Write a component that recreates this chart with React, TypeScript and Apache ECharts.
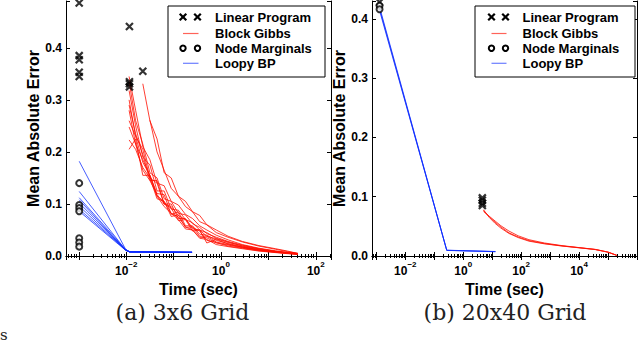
import React, { useEffect, useRef } from "react";
import * as echarts from "echarts";

// ---------- Panel (a) 3x6 Grid ----------
const lpA: number[][] = [
  [0.00102, 0.486], [0.00102, 0.385], [0.00102, 0.377], [0.00102, 0.353], [0.00102, 0.345],
  [0.0117, 0.441], [0.0117, 0.335], [0.0117, 0.331], [0.0117, 0.325], [0.0224, 0.355],
];
const nmA: number[][] = [
  [0.00102, 0.14], [0.00102, 0.098], [0.00102, 0.092], [0.00102, 0.086],
  [0.00102, 0.034], [0.00102, 0.026], [0.00102, 0.018],
];
const bpTimesA = [0.00102, 0.0097, 0.0118, 0.245];
const bpLinesA: number[][] = [
  [0.182, 0.013, 0.008, 0.0072],
  [0.124, 0.012, 0.0078, 0.007],
  [0.112, 0.0125, 0.0082, 0.0074],
  [0.108, 0.011, 0.0076, 0.0068],
  [0.102, 0.012, 0.008, 0.0071],
  [0.096, 0.0115, 0.0079, 0.0069],
  [0.09, 0.0118, 0.0081, 0.0073],
  [0.086, 0.011, 0.0077, 0.0067],
];
const gibbsTimesA = [
  0.0115, 0.0158, 0.0224, 0.0316, 0.0447, 0.0631, 0.0891, 0.126, 0.178, 0.251,
  0.355, 0.501, 0.794, 1.41, 2.82, 6.31, 14.1, 25.1, 41.7,
];
const gibbsLinesA: (number | null)[][] = [
  [0.345, 0.28, 0.21, 0.185, 0.14, 0.135, 0.105, 0.098, 0.08, 0.072, 0.058, 0.05, 0.04, 0.031, 0.022, 0.015, 0.01, 0.007, 0.005],
  [0.335, 0.26, 0.215, 0.16, 0.15, 0.11, 0.105, 0.082, 0.079, 0.062, 0.055, 0.043, 0.036, 0.028, 0.021, 0.014, 0.009, 0.0065, 0.0045],
  [0.318, 0.25, 0.19, 0.175, 0.125, 0.125, 0.09, 0.088, 0.07, 0.064, 0.05, 0.045, 0.034, 0.027, 0.019, 0.013, 0.0085, 0.006, 0.004],
  [0.3, 0.23, 0.205, 0.15, 0.14, 0.1, 0.1, 0.072, 0.072, 0.052, 0.05, 0.038, 0.033, 0.026, 0.02, 0.014, 0.009, 0.0065, 0.0045],
  [0.28, 0.215, 0.185, 0.155, 0.12, 0.118, 0.08, 0.085, 0.058, 0.058, 0.042, 0.04, 0.03, 0.024, 0.018, 0.012, 0.008, 0.006, 0.004],
  [0.248, 0.215, 0.165, 0.145, 0.118, 0.1, 0.092, 0.068, 0.07, 0.048, 0.05, 0.025, 0.032, 0.023, 0.017, 0.012, 0.008, 0.0055, 0.004],
  [0.223, 0.205, 0.17, 0.15, 0.11, 0.105, 0.076, 0.079, 0.055, 0.056, 0.038, 0.038, 0.027, 0.022, 0.017, 0.011, 0.0075, 0.0055, 0.0035],
  [0.205, 0.225, 0.155, 0.155, 0.115, 0.095, 0.082, 0.07, 0.052, 0.05, 0.036, 0.035, 0.025, 0.021, 0.016, 0.011, 0.0075, 0.005, 0.0035],
  [null, null, 0.331, 0.26, 0.225, 0.16, 0.15, 0.115, 0.105, 0.085, 0.078, 0.06, 0.05, 0.038, 0.028, 0.02, 0.014, 0.0095, 0.005],
  [null, null, null, 0.261, 0.2, 0.165, 0.13, 0.115, 0.095, 0.085, 0.066, 0.06, 0.045, 0.036, 0.027, 0.019, 0.013, 0.0085, 0.005],
  [0.29, 0.235, 0.195, 0.145, 0.145, 0.1, 0.095, 0.078, 0.07, 0.055, 0.048, 0.03, 0.026, 0.019, 0.015, 0.01, 0.007, 0.005, 0.0035],
  [0.26, 0.23, 0.18, 0.155, 0.115, 0.105, 0.082, 0.075, 0.056, 0.05, 0.034, 0.032, 0.022, 0.018, 0.014, 0.0095, 0.0065, 0.0045, 0.003],
];

// ---------- Panel (b) 20x40 Grid ----------
const lpB: number[][] = [
  [0.00129, 0.428], [4.57, 0.098], [4.57, 0.094], [4.57, 0.089], [4.57, 0.085],
];
const nmB: number[][] = [[0.00129, 0.422], [0.00129, 0.416]];
const bpTimesB = [0.00129, 0.27, 12.9];
const bpLinesB: number[][] = [
  [0.42, 0.0096, 0.0074],
  [0.417, 0.0094, 0.0072],
  [0.414, 0.0098, 0.0076],
];
const gibbsTimesB = [5.01, 7.94, 12.6, 20.0, 38.0, 79.4, 186, 631, 2570, 10000, 36300, 100000, 200000];
const gibbsLinesB: number[][] = [
  [0.077, 0.066, 0.057, 0.049, 0.039, 0.032, 0.026, 0.021, 0.017, 0.014, 0.011, 0.0065, 0.001],
  [0.075, 0.067, 0.059, 0.051, 0.042, 0.034, 0.0275, 0.022, 0.0175, 0.0142, 0.0112, 0.0066, 0.0012],
  [0.078, 0.065, 0.055, 0.047, 0.038, 0.031, 0.025, 0.0205, 0.0168, 0.0138, 0.0108, 0.0064, 0.0011],
];

// ---------- Axes ----------
const xRangeA = [0.000537, 209];
const xRangeB = [0.000708, 1000000];
const yMaxA = 0.49;
const yMaxB = 0.43;
const xLabelExpA = [-2, 0, 2];
const xLabelExpB = [-2, 0, 2, 4];
const legendNames = ["Linear Program", "Block Gibbs", "Node Marginals", "Loopy BP"];
const captions = ["(a) 3x6 Grid", "(b) 20x40 Grid"];

const SANS = "Liberation Sans";
const SERIF = "DejaVu Serif";
const RED = "rgba(255, 15, 0, 0.8)";
const BLUE = "rgba(10, 40, 255, 0.75)";

function logLabels(exps: number[]) {
  return (v: number) => {
    const l = Math.log10(v);
    const e = Math.round(l);
    if (Math.abs(l - e) > 1e-6 || exps.indexOf(e) < 0) return "";
    return `{b|10}{s|${e < 0 ? "\u2212" : ""}${Math.abs(e)}}`;
  };
}

function xAxes(grid: number, range: number[], exps: number[]) {
  const common = {
    type: "log",
    gridIndex: grid,
    min: range[0],
    max: range[1],
    logBase: 10,
    axisLine: { show: true, lineStyle: { color: "#000", width: 1 } },
    axisTick: { show: true, inside: true, length: 4, lineStyle: { color: "#000" } },
    minorTick: { show: true, splitNumber: 9, length: 2, lineStyle: { color: "#000" } },
    splitLine: { show: false },
    minorSplitLine: { show: false },
  };
  return [
    {
      ...common,
      position: "bottom",
      name: "Time (sec)",
      nameLocation: "middle",
      nameGap: 20,
      nameTextStyle: { fontFamily: SANS, fontWeight: "bold", fontSize: 16, color: "#000" },
      axisLabel: {
        show: true,
        margin: 4,
        formatter: logLabels(exps),
        rich: {
          b: { fontFamily: SANS, fontWeight: "bold", fontSize: 12, color: "#000", lineHeight: 17, verticalAlign: "bottom" },
          s: { fontFamily: SANS, fontWeight: "bold", fontSize: 8, color: "#000", lineHeight: 10, verticalAlign: "top" },
        },
      },
    },
    { ...common, position: "top", axisLabel: { show: false } },
  ];
}

function yAxes(grid: number, max: number) {
  const common = {
    type: "value",
    gridIndex: grid,
    min: 0,
    max,
    interval: 0.1,
    axisLine: { show: true, lineStyle: { color: "#000", width: 1 } },
    axisTick: { show: true, inside: true, length: 4, lineStyle: { color: "#000" } },
    splitLine: { show: false },
  };
  return [
    {
      ...common,
      position: "left",
      name: "Mean Absolute Error",
      nameLocation: "middle",
      nameGap: 19,
      nameRotate: 90,
      nameTextStyle: { fontFamily: SANS, fontWeight: "bold", fontSize: 16, color: "#000" },
      axisLabel: {
        show: true,
        margin: 4,
        fontFamily: SANS,
        fontWeight: "bold",
        fontSize: 12,
        color: "#000",
        formatter: (v: number) => (Math.abs(v * 10 - Math.round(v * 10)) > 1e-6 ? "" : v.toFixed(1)),
      },
    },
    { ...common, position: "right", axisLabel: { show: false } },
  ];
}

function panelSeries(
  xi: number,
  yi: number,
  lp: number[][],
  nm: number[][],
  gTimes: number[],
  gLines: (number | null)[][],
  bTimes: number[],
  bLines: number[][]
) {
  const out: any[] = [];
  gLines.forEach((line) => {
    const data: number[][] = [];
    line.forEach((v, i) => {
      if (v !== null) data.push([gTimes[i], v]);
    });
    out.push({
      type: "line",
      name: "Block Gibbs",
      xAxisIndex: xi,
      yAxisIndex: yi,
      data,
      showSymbol: false,
      symbol: "none",
      lineStyle: { color: RED, width: 1 },
      z: 2,
    });
  });
  bLines.forEach((line) => {
    out.push({
      type: "line",
      name: "Loopy BP",
      xAxisIndex: xi,
      yAxisIndex: yi,
      data: line.map((v, i) => [bTimes[i], v]),
      showSymbol: false,
      symbol: "none",
      lineStyle: { color: BLUE, width: 1 },
      z: 2,
    });
  });
  out.push({
    type: "scatter",
    name: "Linear Program",
    xAxisIndex: xi,
    yAxisIndex: yi,
    data: lp,
    symbol: "path://M0,0L10,10M10,0L0,10",
    symbolSize: 7,
    itemStyle: { color: "transparent", borderColor: "#000", borderWidth: 2.2 },
    z: 4,
  });
  out.push({
    type: "scatter",
    name: "Node Marginals",
    xAxisIndex: xi,
    yAxisIndex: yi,
    data: nm,
    symbol: "circle",
    symbolSize: 6,
    itemStyle: { color: "#fff", borderColor: "#000", borderWidth: 2 },
    z: 4,
  });
  return out;
}

function legendGraphic(x0: number, y0: number, w: number, h: number, m1: number, m2: number, tx: number) {
  const rowsY = [y0 + 11, y0 + 27.5, y0 + 42.3, y0 + 57.3];
  const els: any[] = [
    {
      type: "rect",
      shape: { x: x0, y: y0, width: w, height: h },
      style: { fill: "#fff", stroke: "#000", lineWidth: 1 },
      z: 10,
    },
  ];
  const cross = (cx: number, cy: number) => [
    { type: "line", shape: { x1: cx - 3.3, y1: cy - 3.3, x2: cx + 3.3, y2: cy + 3.3 }, style: { stroke: "#000", lineWidth: 2.2 }, z: 11 },
    { type: "line", shape: { x1: cx - 3.3, y1: cy + 3.3, x2: cx + 3.3, y2: cy - 3.3 }, style: { stroke: "#000", lineWidth: 2.2 }, z: 11 },
  ];
  els.push(...cross(m1, rowsY[0]), ...cross(m2, rowsY[0]));
  els.push({ type: "line", shape: { x1: m1, y1: rowsY[1], x2: m2 + 1, y2: rowsY[1] }, style: { stroke: "rgba(255,15,0,0.65)", lineWidth: 1.2 }, z: 11 });
  els.push({ type: "circle", shape: { cx: m1, cy: rowsY[2], r: 2.7 }, style: { fill: "#fff", stroke: "#000", lineWidth: 2 }, z: 11 });
  els.push({ type: "circle", shape: { cx: m2, cy: rowsY[2], r: 2.7 }, style: { fill: "#fff", stroke: "#000", lineWidth: 2 }, z: 11 });
  els.push({ type: "line", shape: { x1: m1, y1: rowsY[3], x2: m2 + 1, y2: rowsY[3] }, style: { stroke: "rgba(10,40,255,0.6)", lineWidth: 1.2 }, z: 11 });
  legendNames.forEach((n, i) => {
    els.push({
      type: "text",
      x: tx,
      y: rowsY[i],
      style: { text: n, fontFamily: SANS, fontWeight: "bold", fontSize: 13, fill: "#000", align: "left", verticalAlign: "middle" },
      z: 11,
    });
  });
  return els;
}

export default function App() {
  const ref = useRef<HTMLDivElement>(null);
  useEffect(() => {
    if (!ref.current) return;
    const chart = echarts.init(ref.current, undefined, { renderer: "svg" });
    const option: any = {
      animation: false,
      backgroundColor: "#fff",
      grid: [
        { left: 66, top: 1, width: 265, height: 255 },
        { left: 372, top: 1, width: 266, height: 255 },
      ],
      xAxis: [...xAxes(0, xRangeA, xLabelExpA), ...xAxes(1, xRangeB, xLabelExpB)],
      yAxis: [...yAxes(0, yMaxA), ...yAxes(1, yMaxB)],
      series: [
        ...panelSeries(0, 0, lpA, nmA, gibbsTimesA, gibbsLinesA, bpTimesA, bpLinesA),
        ...panelSeries(2, 2, lpB, nmB, gibbsTimesB, gibbsLinesB, bpTimesB, bpLinesB),
      ],
      graphic: [
        ...legendGraphic(168, 6, 157, 71, 183, 197.5, 215),
        ...legendGraphic(475, 6, 160, 71, 491.5, 505.5, 522.5),
        {
          type: "text",
          x: 182.5,
          y: 312,
          style: { text: captions[0], fontFamily: SERIF, fontSize: 22, fill: "#222", align: "center", verticalAlign: "middle" },
        },
        {
          type: "text",
          x: 505,
          y: 312,
          style: { text: captions[1], fontFamily: SERIF, fontSize: 22, fill: "#222", align: "center", verticalAlign: "middle" },
        },
        {
          type: "text",
          x: 0,
          y: 335,
          style: { text: "s", fontFamily: SERIF, fontSize: 15, fill: "#222", align: "left", verticalAlign: "middle" },
        },
      ],
    };
    chart.setOption(option);
    return () => chart.dispose();
  }, []);
  return (
    <div
      ref={ref}
      style={{ position: "fixed", left: 0, top: 0, width: 640, height: 343, background: "#fff" }}
    />
  );
}
